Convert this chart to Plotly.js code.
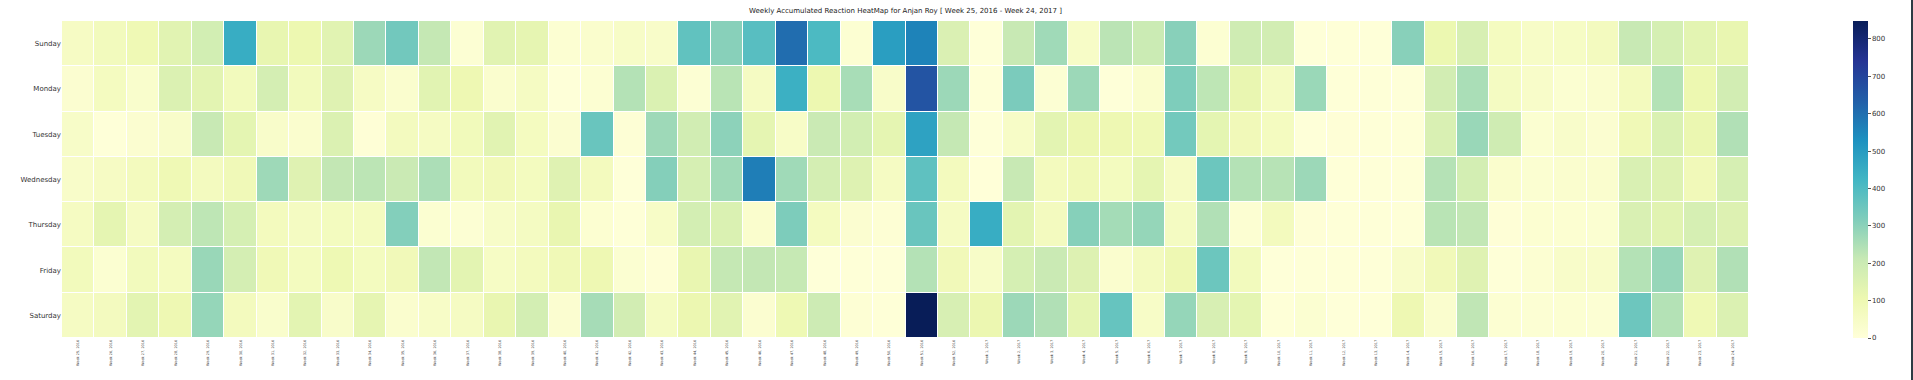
<!DOCTYPE html>
<html>
<head>
<meta charset="utf-8">
<script src="https://cdn.plot.ly/plotly-3.0.1.min.js"></script>
<style>
  html, body { margin: 0; padding: 0; background: #fff; }
  #chart { width: 1913px; height: 380px; }
  #edge { position: absolute; left: 1911px; top: 0; width: 2px; height: 380px; background: #2e3b44; }
</style>
</head>
<body>
<div id="chart"></div>
<div id="edge"></div>
<script>
// ---- data ----
var days = ["Sunday", "Monday", "Tuesday", "Wednesday", "Thursday", "Friday", "Saturday"];

var weekLabels = [
  "Week 25, 2016", "Week 26, 2016", "Week 27, 2016", "Week 28, 2016", "Week 29, 2016",
  "Week 30, 2016", "Week 31, 2016", "Week 32, 2016", "Week 33, 2016", "Week 34, 2016",
  "Week 35, 2016", "Week 36, 2016", "Week 37, 2016", "Week 38, 2016", "Week 39, 2016",
  "Week 40, 2016", "Week 41, 2016", "Week 42, 2016", "Week 43, 2016", "Week 44, 2016",
  "Week 45, 2016", "Week 46, 2016", "Week 47, 2016", "Week 48, 2016", "Week 49, 2016",
  "Week 50, 2016", "Week 51, 2016", "Week 52, 2016",
  "Week 1, 2017", "Week 2, 2017", "Week 3, 2017", "Week 4, 2017", "Week 5, 2017",
  "Week 6, 2017", "Week 7, 2017", "Week 8, 2017", "Week 9, 2017", "Week 10, 2017",
  "Week 11, 2017", "Week 12, 2017", "Week 13, 2017", "Week 14, 2017", "Week 15, 2017",
  "Week 16, 2017", "Week 17, 2017", "Week 18, 2017", "Week 19, 2017", "Week 20, 2017",
  "Week 21, 2017", "Week 22, 2017", "Week 23, 2017", "Week 24, 2017"
];

var sunday    = [55,75,95,140,180,450,120,105,140,275,340,215,15, 140,125,18,32,48,42,370,305,385,605,405,18,492,560, 160,3,210,270,48,230,200,305,18,190,182,3,5, 3,305,108,167,65,48,52,70,210,172,135,118];
var monday    = [25,65,35,155,135,75,175,75,145,55,28,140,100, 30,58,3,18,240,158,15,232,58,440,105,257,42,660, 275,5,325,15,275,3,32,320,225,118,62,278,5, 5,3,182,255,62,42,22,30,72,240,105,182];
var tuesday   = [45,3,25,40,210,130,40,28,155,8,70,58,80, 140,65,25,355,10,273,185,298,127,48,205,180,127,480, 215,3,48,135,110,100,92,338,130,85,65,3,8, 5,4,162,280,190,22,40,25,90,158,112,245];
var wednesday = [42,55,72,95,70,88,272,145,218,228,205,252,78, 85,68,145,72,3,310,170,270,570,270,175,148,58,372, 72,2,210,72,90,68,128,55,350,240,235,275,5, 6,5,238,178,32,22,30,30,162,148,85,170];
var thursday  = [60,128,58,175,225,172,72,62,68,65,312,22,15, 45,62,118,20,6,48,178,158,32,322,65,25,12,355, 58,450,135,70,307,263,285,62,245,18,72,8,5, 6,5,232,220,8,20,20,22,162,140,170,152];
var friday    = [78,22,75,65,280,175,90,68,98,68,85,220,135, 52,72,90,100,22,8,118,215,218,213,3,6,3,240, 85,45,172,205,152,30,70,102,350,75,3,6,5, 4,42,85,145,5,18,42,42,240,283,145,245];
var saturday  = [58,70,135,100,285,72,35,135,40,125,30,48,58, 118,178,25,260,182,62,110,140,25,98,195,14,4,848, 167,110,275,245,128,360,48,285,167,130,5,22,3, 6,100,30,222,18,15,18,15,348,240,95,155];

var colorbarTicks = [0, 100, 200, 300, 400, 500, 600, 700, 800];

// ---- chart ----
var ylgnbu = [
  [0.000, "#ffffd9"], [0.125, "#edf8b1"], [0.250, "#c7e9b4"],
  [0.375, "#7fcdbb"], [0.500, "#41b6c4"], [0.625, "#1d91c0"],
  [0.750, "#225ea8"], [0.875, "#253494"], [1.000, "#081d58"]
];

var trace = {
  type: "heatmap",
  x: weekLabels,
  y: days,
  z: [sunday, monday, tuesday, wednesday, thursday, friday, saturday],
  colorscale: ylgnbu,
  zauto: false,
  zmin: 0,
  zmax: 848,
  xgap: 1,
  ygap: 1,
  hoverongaps: false,
  colorbar: {
    x: 1.0616, xanchor: "left", xref: "paper",
    y: 0.5, yanchor: "middle",
    len: 1, lenmode: "fraction",
    ypad: 0, xpad: 0,
    thickness: 15, thicknessmode: "pixels",
    outlinewidth: 0,
    tickmode: "array", tickvals: colorbarTicks,
    ticklabeloverflow: "allow",
    ticks: "outside", ticklen: 3, tickwidth: 1, tickcolor: "#555",
    tickfont: { family: "DejaVu Sans", size: 7, color: "#333" }
  }
};

var layout = {
  width: 1913, height: 380,
  margin: { l: 62, r: 164, t: 21, b: 42, pad: 0 },
  paper_bgcolor: "#ffffff",
  plot_bgcolor: "#ffffff",
  font: { family: "DejaVu Sans", color: "#333" },
  title: {
    text: "Weekly Accumulated Reaction HeatMap for Anjan Roy [ Week 25, 2016 - Week 24, 2017 ]",
    font: { family: "DejaVu Sans", size: 7, color: "#222" },
    x: 0.5, xref: "paper", xanchor: "center",
    y: 0.972, yref: "container", yanchor: "middle"
  },
  xaxis: {
    type: "category",
    tickangle: -90,
    tickfont: { family: "DejaVu Sans", size: 3.5, color: "#444" },
    ticks: "", showgrid: false, zeroline: false, showline: false,
    automargin: false
  },
  yaxis: {
    type: "category",
    autorange: "reversed",
    tickfont: { family: "DejaVu Sans", size: 7, color: "#333" },
    ticks: "", ticklen: 0, showgrid: false, zeroline: false, showline: false,
    automargin: false
  }
};

Plotly.newPlot("chart", [trace], layout, { staticPlot: true, displayModeBar: false });
</script>
</body>
</html>
